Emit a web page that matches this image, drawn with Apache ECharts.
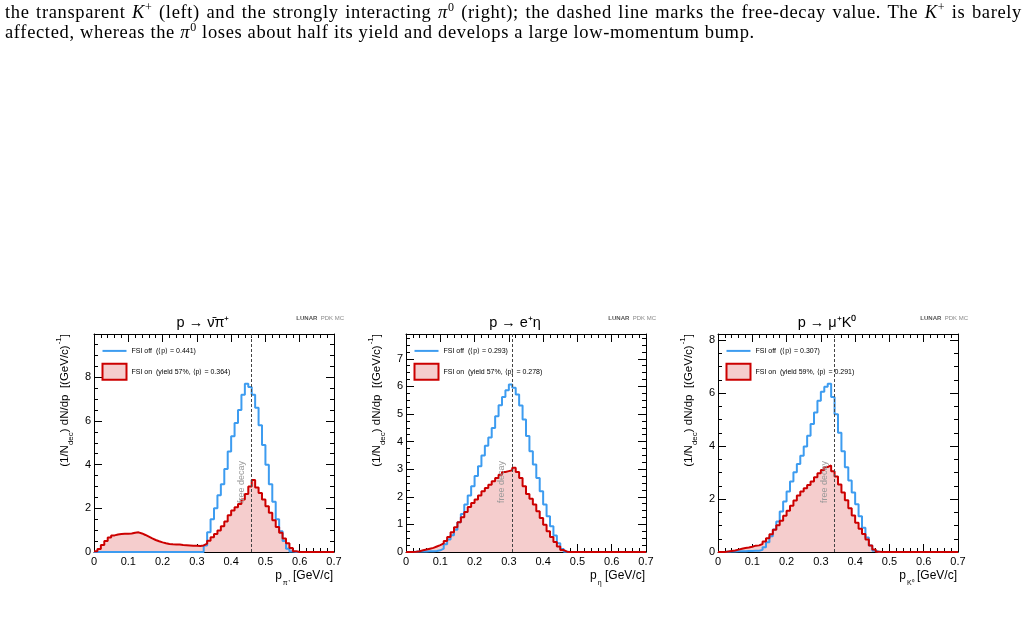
<!DOCTYPE html>
<html>
<head>
<meta charset="utf-8">
<title>FSI momentum spectra</title>
<script src="https://cdn.jsdelivr.net/npm/echarts@6/dist/echarts.min.js"></script>
<style>
  html, body { margin: 0; padding: 0; background: #fff; }
  #page { position: relative; width: 1028px; height: 617px; overflow: hidden; }
  .caption {
    position: absolute; left: 5px; width: 1017px;
    font-family: "Liberation Serif", "DejaVu Serif", serif;
    font-size: 18.5px; letter-spacing: 0.65px; line-height: 20px; white-space: nowrap; color: #000;
  }
  .l1 { top: 2px; text-align: justify; text-align-last: justify; }
  .l2 { top: 22px; }
  .caption sup { font-size: 12px; line-height: 0; vertical-align: 7px; }
  #chart { position: absolute; left: 0; top: 0; width: 1028px; height: 617px; }
</style>
</head>
<body>
<div id="page">
  <div id="chart"></div>
  <div class="caption l1">the transparent <i>K</i><sup>+</sup> (left) and the strongly interacting <i>π</i><sup>0</sup> (right); the dashed line marks the free-decay value. The <i>K</i><sup>+</sup> is barely</div>
  <div class="caption l2">affected, whereas the <i>π</i><sup>0</sup> loses about half its yield and develops a large low-momentum bump.</div>
</div>
<script>
// histogram bins: 0 .. 0.7 GeV/c, 0.01 wide
const binEdges = Array.from({ length: 71 }, (_, i) => i / 100);
const xTicks = [0, 0.1, 0.2, 0.3, 0.4, 0.5, 0.6, 0.7];

// p -> nubar pi+
const piOff = [
  0, 0, 0, 0, 0, 0, 0, 0, 0, 0, 0, 0, 0, 0, 0, 0, 0, 0, 0, 0, 0, 0, 0, 0, 0, 0, 0, 0, 0, 0, 0, 0,
  0.3, 0.9, 1.5, 2.0, 2.6, 3.1, 3.8, 4.6, 5.3, 5.9, 6.5, 7.2, 7.7, 7.55, 7.2, 6.6, 5.8, 4.9,
  4.0, 3.1, 2.3, 1.5, 0.95, 0.5, 0.15, 0.02,
  0, 0, 0, 0, 0, 0, 0, 0, 0, 0, 0, 0
];
const piOn = [
  0.03, 0.14, 0.32, 0.5, 0.66, 0.76, 0.8, 0.82, 0.83, 0.84, 0.85, 0.88, 0.9, 0.85, 0.78, 0.7,
  0.62, 0.55, 0.49, 0.44, 0.4, 0.37, 0.35, 0.34, 0.34, 0.32, 0.31, 0.3, 0.29, 0.29, 0.28, 0.3,
  0.38, 0.52, 0.68, 0.82, 0.98, 1.18, 1.4, 1.68, 1.9, 2.05, 2.2, 2.4, 2.65, 3.0, 3.3, 2.95,
  2.7, 2.4, 2.1, 1.8, 1.45, 1.15, 0.88, 0.62, 0.4, 0.18, 0.03,
  0, 0, 0, 0, 0, 0, 0, 0, 0, 0, 0
];

// p -> e+ eta
const etaOff = [
  0, 0, 0.01, 0.02, 0.02, 0.02, 0.03, 0.03, 0.04, 0.06, 0.12, 0.28, 0.45, 0.61, 0.81, 1.08,
  1.38, 1.72, 2.05, 2.38, 2.75, 3.11, 3.5, 3.85, 4.15, 4.49, 4.92, 5.32, 5.62, 5.86, 6.07, 5.95,
  5.71, 5.31, 4.8, 4.2, 3.65, 3.17, 2.68, 2.2, 1.72, 1.3, 0.93, 0.6, 0.32, 0.11, 0.01,
  0, 0, 0, 0, 0, 0, 0, 0, 0, 0, 0, 0, 0, 0, 0, 0, 0, 0, 0, 0, 0, 0, 0
];
const etaOn = [
  0, 0, 0.01, 0.03, 0.06, 0.09, 0.12, 0.15, 0.2, 0.25, 0.31, 0.4, 0.54, 0.72, 0.9, 1.08,
  1.26, 1.45, 1.63, 1.78, 1.9, 2.05, 2.2, 2.32, 2.44, 2.56, 2.68, 2.8, 2.9, 2.93, 2.96, 3.05,
  2.9, 2.68, 2.38, 2.1, 1.93, 1.72, 1.48, 1.23, 0.99, 0.75, 0.54, 0.36, 0.2, 0.07, 0.01,
  0, 0, 0, 0, 0, 0, 0, 0, 0, 0, 0, 0, 0, 0, 0, 0, 0, 0, 0, 0, 0, 0, 0
];

// p -> mu+ K0
const kOff = [
  0, 0, 0.01, 0.02, 0.02, 0.03, 0.03, 0.03, 0.04, 0.04, 0.05, 0.05, 0.08, 0.18, 0.37, 0.59,
  0.85, 1.15, 1.53, 1.91, 2.28, 2.66, 3.01, 3.32, 3.63, 3.98, 4.39, 4.83, 5.27, 5.71, 6.05, 6.24,
  6.35, 5.85, 5.2, 4.5, 3.8, 3.2, 2.7, 2.25, 1.8, 1.35, 0.92, 0.55, 0.25, 0.05,
  0, 0, 0, 0, 0, 0, 0, 0, 0, 0, 0, 0, 0, 0, 0, 0, 0, 0, 0, 0, 0, 0, 0, 0
];
const kOn = [
  0, 0, 0.02, 0.04, 0.06, 0.09, 0.12, 0.15, 0.17, 0.2, 0.24, 0.25, 0.3, 0.4, 0.52, 0.67,
  0.84, 1.01, 1.18, 1.37, 1.56, 1.75, 1.94, 2.13, 2.28, 2.41, 2.53, 2.66, 2.82, 2.97, 3.1, 3.21,
  3.27, 3.05, 2.85, 2.55, 2.25, 1.95, 1.65, 1.38, 1.1, 0.88, 0.68, 0.47, 0.25, 0.09, 0.01,
  0, 0, 0, 0, 0, 0, 0, 0, 0, 0, 0, 0, 0, 0, 0, 0, 0, 0, 0, 0, 0, 0, 0
];

const decayTitles = ['p → ν̄π⁺', 'p → e⁺η', 'p → μ⁺K⁰'];
const xTitleParticle = ['π⁺', 'η', 'K⁰'];
const freeDecay = [0.459, 0.309, 0.336];
const meanOff = ['0.441', '0.293', '0.307'];
const meanOn = ['0.364', '0.278', '0.291'];
const yieldOn = ['57%', '57%', '59%'];
const yTickLabels = [[0, 2, 4, 6, 8], [0, 1, 2, 3, 4, 5, 6, 7], [0, 2, 4, 6, 8]];
const yMax = [9.98, 7.9, 8.23];
const yMinor = [4, 4, 4];
const offSets = [piOff, etaOff, kOff];
const onSets = [piOn, etaOn, kOn];

const FONT = '"Liberation Sans", Arial, Helvetica, sans-serif';
const BLUE = '#3d9cf0';
const RED = '#cc0000';
const PINK = '#f5cdcd';
const gridLeft = [94, 406, 718];
const gridTop = 334, gridW = 240, gridH = 218;

const stepData = vals => binEdges.map((e, i) => [e, vals[Math.min(i, vals.length - 1)]]);

const frameAxis = {
  axisLine: { show: true, onZero: false, lineStyle: { color: '#000', width: 1 } },
  axisTick: { show: true, inside: true, length: 8, lineStyle: { color: '#000', width: 1 } },
  minorTick: { show: true, length: 4, lineStyle: { color: '#000', width: 1 } },
  splitLine: { show: false },
  minorSplitLine: { show: false }
};

const chart = echarts.init(document.getElementById('chart'), null, { renderer: 'canvas' });

const grid = [], xAxis = [], yAxis = [], series = [], legend = [], graphic = [];

for (let i = 0; i < 3; i++) {
  const L = gridLeft[i];
  grid.push({ left: L, top: gridTop, width: gridW, height: gridH });

  const xBase = {
    type: 'value', gridIndex: i, min: xTicks[0], max: xTicks[xTicks.length - 1], interval: 0.1,
    ...frameAxis, minorTick: { ...frameAxis.minorTick, splitNumber: 5 }
  };
  xAxis.push({
    ...xBase, position: 'bottom',
    axisLabel: { show: true, margin: 4, fontSize: 11, color: '#000', fontFamily: FONT }
  });
  xAxis.push({ ...xBase, position: 'top', axisLabel: { show: false } });

  const labels = yTickLabels[i];
  const yBase = {
    type: 'value', gridIndex: i, min: 0, max: yMax[i], interval: labels[1] - labels[0],
    ...frameAxis, minorTick: { ...frameAxis.minorTick, splitNumber: yMinor[i] }
  };
  yAxis.push({
    ...yBase, position: 'left',
    axisLabel: {
      show: true, showMaxLabel: false, margin: 3, fontSize: 11, color: '#000', fontFamily: FONT,
      formatter: v => (labels.includes(v) ? String(v) : '')
    }
  });
  yAxis.push({ ...yBase, position: 'right', axisLabel: { show: false } });

  const offName = 'FSI off  (⟨p⟩ = ' + meanOff[i] + ')';
  const onName = 'FSI on  (yield ' + yieldOn[i] + ', ⟨p⟩ = ' + meanOn[i] + ')';
  const axes = { xAxisIndex: 2 * i, yAxisIndex: 2 * i };

  series.push({
    name: onName, type: 'line', ...axes, step: 'end', symbol: 'none', clip: false,
    data: stepData(onSets[i]),
    itemStyle: { color: RED },
    lineStyle: { width: 0, color: RED },
    areaStyle: { color: PINK, opacity: 1 },
    z: 2,
    markLine: {
      silent: true, symbol: ['none', 'none'],
      lineStyle: { color: '#444', width: 1, type: [3, 2] },
      label: {
        show: true, formatter: 'free decay', position: 'insideStartTop', distance: [49, 6],
        color: '#999', fontSize: 9, fontFamily: FONT
      },
      data: [{ xAxis: freeDecay[i] }]
    }
  });
  series.push({
    name: offName, type: 'line', ...axes, step: 'end', symbol: 'none', showSymbol: false, clip: false,
    data: stepData(offSets[i]),
    itemStyle: { color: BLUE },
    lineStyle: { width: 2, color: BLUE },
    z: 3
  });
  series.push({
    type: 'line', ...axes, step: 'end', symbol: 'none', clip: false, silent: true,
    data: stepData(onSets[i]),
    itemStyle: { color: RED },
    lineStyle: { width: 2, color: RED },
    z: 4
  });

  legend.push({
    left: L + 7.5, top: gridTop + 10.5, padding: 0, orient: 'vertical', selectedMode: false,
    itemWidth: 24, itemHeight: 16, itemGap: 5.5,
    textStyle: { fontSize: 7, color: '#000', fontFamily: FONT },
    data: [
      { name: offName, itemStyle: { opacity: 0 } },
      { name: onName, icon: 'rect', itemStyle: { color: PINK, borderColor: RED, borderWidth: 2 } }
    ]
  });

  // panel title
  graphic.push({
    type: 'text', x: L + 109, y: 323,
    style: { text: decayTitles[i], align: 'center', verticalAlign: 'middle', fontSize: 14.5, fontFamily: FONT, fill: '#000' }
  });
  // watermark
  graphic.push({
    type: 'text', x: L + 250, y: 318,
    style: {
      text: '{b|LUNAR} {r|PDK MC}', align: 'right', verticalAlign: 'middle',
      rich: {
        b: { fontSize: 6, fontWeight: 'bold', fill: '#555', fontFamily: FONT },
        r: { fontSize: 6, fill: '#888', fontFamily: FONT }
      }
    }
  });
  // y title
  graphic.push({
    type: 'text', x: L - 32, y: gridTop, rotation: Math.PI / 2,
    style: {
      text: '{a|(1/N}{s|dec}{a|) dN/dp  [(GeV/c)}{u|-1}{a|]}', align: 'right', verticalAlign: 'middle',
      rich: {
        a: { fontSize: 11.5, lineHeight: 14, padding: [4, 0, 0, 0], verticalAlign: 'top', fill: '#000', fontFamily: FONT },
        s: { fontSize: 8, lineHeight: 9, padding: [12, 0, 0, 0], verticalAlign: 'top', fill: '#000', fontFamily: FONT },
        u: { fontSize: 8, lineHeight: 9, padding: [0, 0, 0, 1], verticalAlign: 'top', fill: '#000', fontFamily: FONT }
      }
    }
  });
  // x title
  graphic.push({
    type: 'text', x: L + gridW - 1, y: 577,
    style: {
      text: '{a|p}{s|' + xTitleParticle[i] + '}{a| [GeV/c]}', align: 'right', verticalAlign: 'middle',
      rich: {
        a: { fontSize: 12, lineHeight: 14, verticalAlign: 'top', fill: '#000', fontFamily: FONT },
        s: { fontSize: 7, lineHeight: 8, padding: [10, 0, 0, 1], verticalAlign: 'top', fill: '#000', fontFamily: FONT }
      }
    }
  });
}

chart.setOption({
  animation: false,
  backgroundColor: 'transparent',
  grid, xAxis, yAxis, series, legend, graphic
});

window.addEventListener('resize', () => chart.resize());
</script>
</body>
</html>
